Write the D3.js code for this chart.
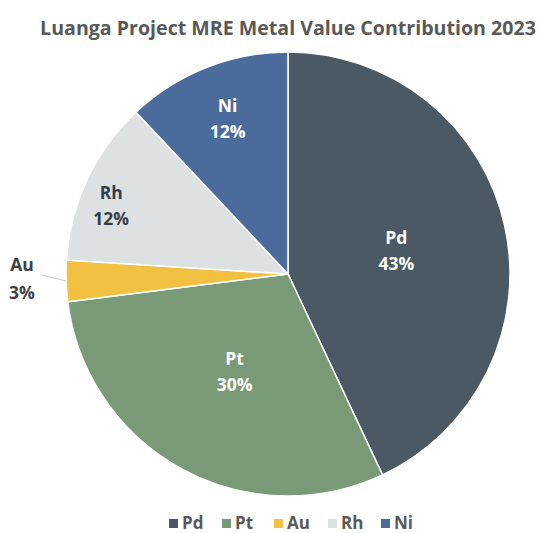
<!DOCTYPE html>
<html><head><meta charset="utf-8">
<script src="https://cdn.jsdelivr.net/npm/d3@7"></script>
<style>body{margin:0;background:#fff}svg{display:block}</style>
</head><body>
<svg id="c" width="538" height="533"></svg>
<script>
const categories = ["Pd", "Pt", "Au", "Rh", "Ni"];
const values = [43, 30, 3, 12, 12];
const colors = ["#4a5964", "#7a9a77", "#f2c141", "#dde1e1", "#4a6b9b"];
const labelColors = ["#ffffff", "#ffffff", "#404040", "#333d4d", "#ffffff"];
const labelRadius = [0.5, 0.5, 1, 0.88, 0.74];
const labelDy = [0, 0, 0, 14, -3];
const title = "Luanga Project MRE Metal Value Contribution 2023";

const svg = d3.select("#c");
const font = "'Open Sans', 'Noto Sans', sans-serif";
const cx = 288, cy = 274, r = 222;

svg.append("text").attr("x", 288).attr("y", 35).attr("text-anchor", "middle")
  .attr("font-family", font).attr("font-weight", 700).attr("font-size", 19.6)
  .attr("fill", "#595959").text(title);

const data = categories.map((c, i) => ({cat: c, v: values[i], col: colors[i], lc: labelColors[i], lr: labelRadius[i], dy: labelDy[i]}));
const pie = d3.pie().value(d => d.v).sort(null);
const arcs = pie(data);
const arc = d3.arc().innerRadius(0).outerRadius(r);
const g = svg.append("g").attr("transform", `translate(${cx},${cy})`);
g.selectAll("path").data(arcs).join("path").attr("d", arc)
  .attr("fill", d => d.data.col).attr("stroke", "#ffffff").attr("stroke-width", 1.5);

arcs.forEach(a => {
  let x, y, gap = 26;
  if (a.data.cat === "Au") {
    const mid = (a.startAngle + a.endAngle) / 2;
    const p1 = [Math.sin(mid) * r, -Math.cos(mid) * r];
    g.append("polyline")
      .attr("points", [[p1[0], p1[1]], [-r - 16, p1[1] - 4], [-r - 24, p1[1] - 6]].map(p => p.join(",")).join(" "))
      .attr("fill", "none").attr("stroke", "#c8c8c8").attr("stroke-width", 1.2);
    x = -r - 44; y = p1[1] - 4; gap = 28;
  } else {
    const la = d3.arc().innerRadius(r * a.data.lr).outerRadius(r * a.data.lr);
    [x, y] = la.centroid(a);
  }
  y += a.data.dy;
  const t = g.append("text").attr("text-anchor", "middle").attr("font-family", font)
    .attr("font-weight", 700).attr("font-size", 17.5).attr("fill", a.data.lc);
  t.append("tspan").attr("x", x).attr("y", y - 6).text(a.data.cat);
  t.append("tspan").attr("x", x).attr("y", y - 6 + gap).text(a.data.v + "%");
});

const legendX = [169, 222, 274, 328, 381];
const lg = svg.append("g");
data.forEach((d, i) => {
  lg.append("rect").attr("x", legendX[i]).attr("y", 519).attr("width", 9).attr("height", 9).attr("fill", d.col);
  lg.append("text").attr("x", legendX[i] + 13).attr("y", 529).attr("font-family", font)
    .attr("font-weight", 700).attr("font-size", 17).attr("fill", "#595959").text(d.cat);
});
</script>
</body></html>
